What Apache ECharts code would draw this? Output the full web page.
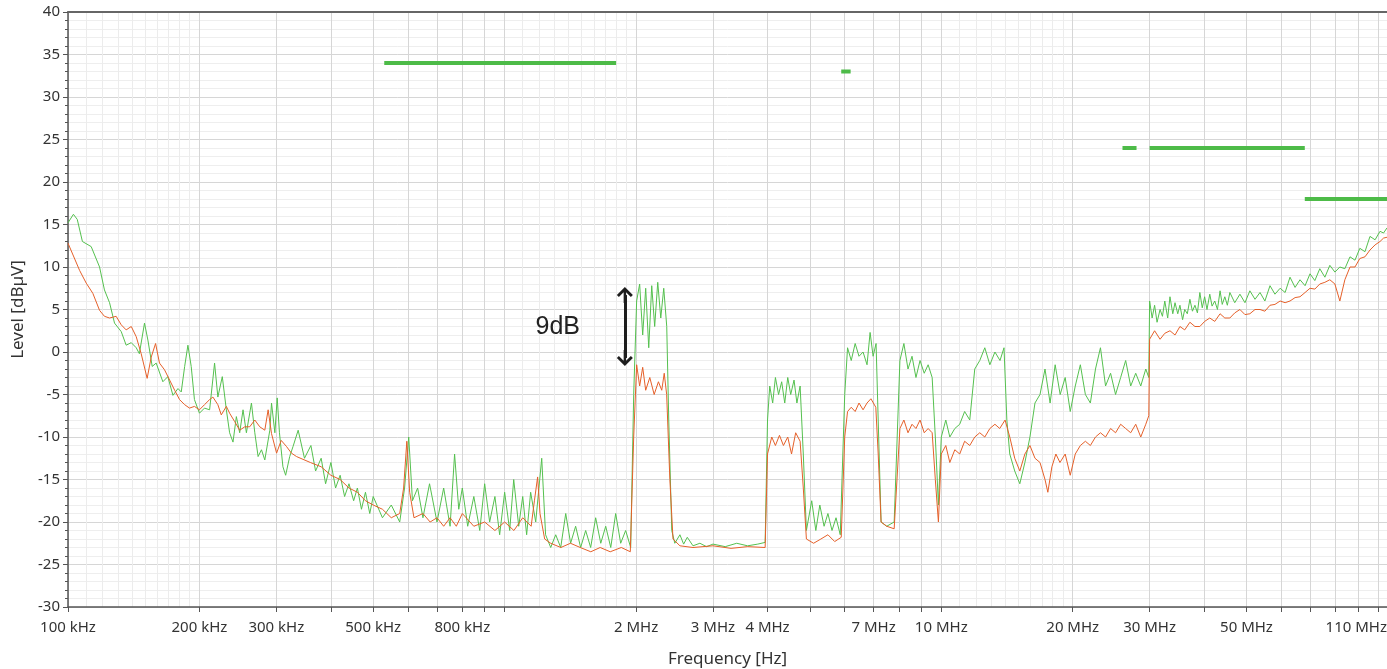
<!DOCTYPE html>
<html><head><meta charset="utf-8">
<script src="https://cdn.jsdelivr.net/npm/echarts@6/dist/echarts.min.js"></script>
<style>html,body{margin:0;padding:0;background:#fff}#c{width:1387px;height:669px}</style>
</head><body><div id="c"></div>
<script>
// Frequencies in MHz, levels in dBµV
const greenFreq = [0.1,0.1029,0.105,0.1079,0.113,0.1181,0.1212,0.1245,0.1278,0.1324,0.1359,0.1396,0.1433,0.1457,0.1497,0.1524,0.1559,0.1592,0.1649,0.1693,0.1739,0.1786,0.1817,0.185,0.1882,0.1915,0.1948,0.2,0.2054,0.211,0.2166,0.2204,0.2256,0.2305,0.2345,0.2387,0.243,0.2473,0.2517,0.2562,0.2631,0.2678,0.2725,0.2774,0.2823,0.2899,0.2925,0.2977,0.3014,0.305,0.3106,0.3151,0.3219,0.3277,0.3366,0.348,0.36,0.369,0.38,0.389,0.40,0.41,0.42,0.43,0.44,0.451,0.46,0.47,0.48,0.491,0.50,0.525,0.55,0.575,0.59,0.603,0.615,0.632,0.65,0.673,0.70,0.725,0.75,0.768,0.785,0.80,0.823,0.85,0.877,0.90,0.924,0.95,0.974,1.0,1.027,1.049,1.077,1.10,1.123,1.147,1.178,1.216,1.241,1.275,1.309,1.344,1.38,1.416,1.454,1.493,1.533,1.574,1.616,1.66,1.704,1.75,1.796,1.844,1.893,1.944,1.975,2.006,2.038,2.071,2.104,2.138,2.172,2.206,2.242,2.278,2.314,2.351,2.376,2.414,2.453,2.52,2.57,2.62,2.7,2.8,2.9,3.0,3.2,3.4,3.6,3.8,3.95,4.0,4.047,4.11,4.17,4.24,4.31,4.38,4.45,4.52,4.6,4.67,4.75,4.83,4.91,5.05,5.16,5.27,5.39,5.5,5.62,5.74,5.87,6.01,6.10,6.22,6.35,6.48,6.62,6.76,6.87,6.98,7.09,7.17,7.28,7.5,7.8,8.04,8.21,8.39,8.57,8.75,8.94,9.14,9.33,9.53,9.69,9.85,10.0,10.24,10.46,10.74,11.02,11.31,11.62,11.93,12.25,12.58,12.92,13.27,13.63,13.92,14.13,14.35,14.73,15.13,15.54,15.96,16.39,16.83,17.28,17.75,18.23,18.72,19.22,19.74,20.27,20.82,21.38,21.95,22.55,23.15,23.78,24.42,25.07,25.75,26.44,27.15,27.88,28.63,29.4,29.87,30.0,30.4,30.8,31.2,31.7,32.1,32.5,33.0,33.4,33.9,34.3,34.8,35.2,35.7,36.1,36.6,37.1,37.6,38.1,38.6,39.1,39.6,40.1,40.6,41.2,41.7,42.3,42.9,43.5,44.0,44.6,45.2,45.8,47.0,48.3,49.6,50.9,52.3,53.7,55.1,56.6,58.1,59.7,61.3,62.9,64.6,66.3,68.1,69.9,71.7,73.6,75.6,77.6,79.7,81.8,84.0,86.3,88.6,90.9,93.4,95.9,98.5,101.1,103.0,104.9];
const greenLevel = [15.2,16.2,15.6,13.0,12.4,10.0,7.3,5.8,3.4,2.4,0.8,1.1,0.5,-0.2,3.4,1.4,-1.7,-1.3,-3.5,-2.9,-5.1,-4.3,-4.7,-1.7,0.8,-1.7,-5.6,-7.2,-6.6,-6.8,-1.3,-5.3,-2.9,-6.8,-9.5,-10.6,-7.6,-9.5,-6.8,-9.5,-6.0,-9.5,-12.3,-11.5,-12.7,-9.2,-6.0,-9.5,-5.4,-9.5,-13.5,-14.5,-12.3,-11.1,-9.2,-12.5,-11.0,-14.0,-12.5,-15.5,-13.0,-16.0,-14.5,-17.0,-15.5,-17.5,-16.0,-18.5,-16.5,-19.0,-17.0,-19.5,-18.0,-20.0,-16.0,-10.0,-17.5,-16.0,-19.5,-15.5,-20.0,-16.0,-20.5,-12.0,-18.5,-16.0,-20.5,-17.0,-21.0,-15.5,-20.0,-17.0,-21.5,-16.5,-21.0,-15.0,-20.5,-17.0,-21.5,-16.5,-20.0,-12.5,-21.5,-23.0,-21.5,-23.0,-19.0,-22.5,-20.5,-23.0,-21.0,-23.0,-19.5,-22.5,-20.5,-23.0,-19.0,-22.5,-21.0,-23.0,-5.0,6.0,8.0,2.0,7.5,0.5,7.8,3.0,8.2,4.0,7.5,3.0,-8.0,-21.0,-22.5,-21.5,-22.6,-21.8,-22.8,-22.5,-22.9,-22.6,-22.9,-22.5,-22.8,-22.6,-22.4,-8.0,-4.0,-6.0,-3.0,-5.0,-3.5,-6.0,-3.0,-5.0,-3.3,-6.0,-4.0,-12.0,-21.0,-17.5,-21.0,-18.0,-20.5,-19.0,-21.0,-19.5,-21.5,-5.0,0.5,-1.0,1.0,-0.5,0.0,-1.5,2.3,-0.5,1.0,-8.0,-20.0,-20.5,-20.0,-1.0,1.0,-2.0,-0.5,-3.0,-1.0,-2.5,-1.5,-3.0,-10.0,-18.0,-10.0,-8.0,-10.0,-9.0,-8.5,-7.0,-8.0,-2.0,-1.0,0.5,-1.5,0.0,-1.0,0.5,-8.0,-12.0,-14.0,-15.5,-13.0,-10.0,-6.0,-5.0,-2.0,-6.0,-1.5,-5.0,-3.0,-7.0,-4.0,-1.5,-5.0,-6.0,-2.0,0.5,-4.0,-2.5,-5.0,-3.0,-1.0,-4.0,-2.5,-4.0,-2.0,-3.0,6.0,4.0,5.5,3.5,5.0,4.2,6.0,4.0,6.5,4.5,5.8,4.5,5.5,3.8,5.0,4.5,6.2,4.8,5.5,4.6,7.0,5.2,6.5,5.0,6.8,5.4,6.0,5.0,7.2,5.6,6.5,5.5,7.0,5.8,6.8,5.8,7.2,6.2,7.0,6.0,7.8,6.8,7.5,7.0,8.8,7.6,8.5,7.8,9.2,8.4,9.8,8.8,10.2,9.4,10.0,9.8,11.2,10.8,12.2,11.8,13.6,13.2,14.2,14.0,14.6];

const orangeFreq = [0.1,0.1063,0.1101,0.114,0.1181,0.1212,0.1245,0.1289,0.1324,0.1359,0.1396,0.1433,0.1471,0.1518,0.1551,0.1587,0.162,0.1664,0.1709,0.1755,0.1801,0.185,0.1898,0.1948,0.2,0.2054,0.211,0.2147,0.2204,0.2244,0.2305,0.2345,0.2409,0.2473,0.254,0.2607,0.2678,0.2749,0.2823,0.2873,0.2925,0.3004,0.3078,0.3163,0.3249,0.3337,0.359,0.38,0.40,0.42,0.44,0.46,0.48,0.50,0.525,0.55,0.575,0.587,0.597,0.606,0.62,0.65,0.675,0.70,0.725,0.75,0.775,0.80,0.85,0.90,0.95,1.0,1.05,1.10,1.15,1.17,1.19,1.205,1.235,1.275,1.345,1.415,1.49,1.575,1.655,1.745,1.85,1.94,1.975,2.006,2.038,2.071,2.104,2.15,2.2,2.25,2.29,2.32,2.35,2.39,2.43,2.52,2.7,3.0,3.3,3.6,3.95,4.0,4.09,4.17,4.26,4.35,4.45,4.54,4.64,4.75,4.83,4.91,5.1,5.3,5.5,5.7,5.9,6.01,6.10,6.22,6.35,6.48,6.62,6.76,6.9,7.08,7.17,7.28,7.5,7.8,8.04,8.21,8.39,8.57,8.75,8.94,9.14,9.33,9.53,9.69,9.85,10.0,10.24,10.46,10.74,11.02,11.31,11.62,11.93,12.25,12.58,12.92,13.27,13.61,14.0,14.35,14.73,15.13,15.54,15.96,16.39,16.83,17.28,17.54,17.92,18.3,18.7,19.22,19.74,20.27,20.82,21.38,21.95,22.55,23.15,23.78,24.42,25.07,25.75,26.44,27.15,27.88,28.63,29.4,29.87,30.0,30.8,31.7,32.5,33.4,34.3,35.2,36.1,37.1,38.1,39.1,40.1,41.2,42.3,43.5,44.6,45.8,47.0,48.3,49.6,50.9,52.3,53.7,55.1,56.6,58.1,59.7,61.3,62.9,64.6,66.3,68.1,69.9,71.7,73.6,75.6,77.6,79.7,81.8,84.0,86.3,88.6,90.9,93.4,95.9,98.5,101.1,103.0,104.9];
const orangeLevel = [12.8,9.6,8.1,6.9,4.9,4.2,4.0,4.2,3.2,2.6,3.0,1.8,-0.2,-3.1,-0.6,1.0,-1.3,-2.1,-3.3,-4.5,-5.6,-6.2,-6.6,-6.4,-6.8,-6.2,-5.6,-5.3,-6.2,-7.4,-6.4,-7.2,-8.2,-9.2,-8.8,-8.8,-8.0,-8.8,-9.2,-6.8,-9.6,-11.9,-10.4,-11.1,-11.9,-12.3,-13.0,-13.5,-14.5,-15.0,-16.0,-16.5,-17.5,-18.0,-18.5,-19.5,-19.0,-16.0,-10.5,-16.5,-19.5,-19.0,-20.0,-19.5,-20.5,-19.5,-20.5,-19.0,-20.5,-20.0,-21.0,-20.0,-21.0,-19.5,-20.5,-17.5,-14.7,-19.0,-22.0,-22.5,-23.0,-22.5,-23.0,-23.5,-23.0,-23.5,-23.0,-23.5,-10.0,-1.5,-4.0,-1.8,-4.5,-3.0,-5.0,-3.5,-4.5,-2.5,-5.0,-15.0,-22.0,-22.8,-23.0,-22.8,-23.1,-22.9,-23.0,-12.0,-10.0,-11.0,-9.8,-11.0,-10.0,-12.0,-9.5,-10.5,-16.0,-22.0,-22.5,-22.0,-21.5,-22.3,-21.8,-10.0,-7.0,-6.5,-7.0,-6.0,-6.8,-6.0,-5.5,-6.5,-12.0,-20.0,-20.5,-20.8,-9.0,-8.0,-9.5,-8.5,-9.0,-8.0,-9.5,-9.0,-9.5,-15.0,-20.0,-12.0,-11.0,-13.0,-11.5,-12.0,-10.5,-11.0,-10.0,-9.5,-10.0,-9.0,-8.5,-9.0,-8.0,-10.0,-12.5,-14.0,-12.0,-11.0,-12.5,-13.0,-15.0,-16.5,-13.5,-12.0,-13.0,-12.0,-14.5,-12.0,-11.0,-10.5,-11.0,-10.0,-9.5,-10.0,-9.0,-9.5,-8.5,-9.0,-9.5,-8.5,-10.0,-8.5,-7.5,1.5,2.5,1.5,2.2,2.5,2.0,3.0,2.6,3.5,3.0,3.0,3.6,4.0,3.6,4.5,4.0,4.0,4.6,5.0,4.4,4.5,5.0,5.0,4.8,5.5,5.6,6.0,5.8,6.0,6.4,6.5,7.0,7.5,7.4,8.0,8.2,8.5,8.0,6.0,8.5,10.0,10.0,11.0,11.2,12.0,12.6,13.0,13.4,13.5];

// Limit line segments
const limitStart = [0.53, 5.9, 26, 30, 68];
const limitEnd   = [1.8, 6.2, 28, 68, 105];
const limitLevel = [34, 33, 24, 24, 18];

// Axis
const fMin = 0.1, fMax = 104.9;
const yMin = -30, yMax = 40;
const tickLabelFreq = [0.1,0.2,0.3,0.5,0.8,2,3,4,7,10,20,30,50,110];
const tickLabelText = ['100 kHz','200 kHz','300 kHz','500 kHz','800 kHz','2 MHz','3 MHz','4 MHz','7 MHz','10 MHz','20 MHz','30 MHz','50 MHz','110 MHz'];

// Annotation
const arrowFreq = 1.885, arrowTop = 6.7, arrowBottom = -0.7;
const noteFreq = 1.323, noteLevel = 2.9, noteText = '9dB';

const L = f => Math.log10(f);
const lo = L(fMin), hi = L(fMax);
const majorTicks = [], minorTicks = [];
[0.1, 1, 10].forEach(d => {
  for (let k = 1; k <= 9; k++) majorTicks.push(L(k * d));
  for (let k = 11; k <= 19; k++) minorTicks.push(L(k * d / 10));
});
majorTicks.push(L(100));
const labelPos = tickLabelFreq.map(f => Math.min(L(f), hi));
const fmtX = v => {
  let best = 0;
  labelPos.forEach((p, i) => { if (Math.abs(p - v) < Math.abs(labelPos[best] - v)) best = i; });
  return tickLabelText[best];
};

const FONT = 'Noto Sans';
const chart = echarts.init(document.getElementById('c'), null, {renderer: 'canvas'});
const limitSeries = limitStart.map((s, i) => ({
  type: 'line', xAxisIndex: 0, yAxisIndex: 0, silent: true, showSymbol: false, symbol: 'none',
  lineStyle: {color: '#4dbb48', width: 4}, z: 5,
  data: [[L(s), limitLevel[i]], [L(limitEnd[i]), limitLevel[i]]]
}));
const arrowHead = 'path://M10,0 L20,10 L17.5,12.5 L11.5,6.5 L11.5,20 L8.5,20 L8.5,6.5 L2.5,12.5 L0,10 Z';

chart.setOption({
  animation: false,
  backgroundColor: '#ffffff',
  grid: {left: 68, right: 0, top: 12, bottom: 62, outerBoundsMode: 'none', containLabel: false},
  xAxis: [{
    type: 'value', min: lo, max: hi, position: 'bottom',
    name: 'Frequency [Hz]', nameLocation: 'middle', nameGap: 44,
    nameTextStyle: {fontFamily: FONT, fontSize: 17, color: '#333'},
    axisLine: {show: true, onZero: false, lineStyle: {color: '#555', width: 1.5}},
    axisTick: {show: true, customValues: majorTicks, length: 5, lineStyle: {color: '#555'}},
    axisLabel: {customValues: labelPos, formatter: fmtX, fontFamily: FONT, fontSize: 15, color: '#333', margin: 13, alignMaxLabel: 'right', showMinLabel: true, showMaxLabel: true, hideOverlap: false},
    splitLine: {show: true, lineStyle: {color: '#d6d6d6', width: 1}}
  }, {
    type: 'value', min: lo, max: hi, position: 'top',
    axisLine: {show: true, onZero: false, lineStyle: {color: '#666', width: 2}},
    axisTick: {show: false, customValues: minorTicks},
    axisLabel: {show: false},
    splitLine: {show: true, lineStyle: {color: '#ececec', width: 1}}
  }],
  yAxis: [{
    type: 'value', min: yMin, max: yMax, interval: 5,
    name: 'Level [dBµV]', nameLocation: 'middle', nameGap: 33, nameRotate: 90,
    nameTextStyle: {fontFamily: FONT, fontSize: 17, color: '#333'},
    axisLine: {show: true, onZero: false, lineStyle: {color: '#555', width: 1.5}},
    axisTick: {show: true, length: 5, lineStyle: {color: '#555'}},
    minorTick: {show: true, splitNumber: 5, length: 3, lineStyle: {color: '#555'}},
    axisLabel: {fontFamily: FONT, fontSize: 15, color: '#333', margin: 8},
    splitLine: {show: true, lineStyle: {color: '#d6d6d6', width: 1}},
    minorSplitLine: {show: true, lineStyle: {color: '#eeeeee', width: 1}}
  }],
  series: [
    {
      name: 'green', type: 'line', showSymbol: false, symbol: 'none', z: 3,
      lineStyle: {color: '#55c04f', width: 1},
      data: greenFreq.map((f, i) => [L(f), greenLevel[i]])
    },
    {
      name: 'orange', type: 'line', showSymbol: false, symbol: 'none', z: 4,
      lineStyle: {color: '#e5602a', width: 1},
      data: orangeFreq.map((f, i) => [L(f), orangeLevel[i]]),
      markLine: {
        silent: true, symbol: [arrowHead, arrowHead], symbolSize: [16, 16],
        label: {show: false},
        lineStyle: {color: '#1e1e1e', width: 3, type: 'solid'},
        data: [[{coord: [L(arrowFreq), arrowTop]}, {coord: [L(arrowFreq), arrowBottom]}]]
      },
      markPoint: {
        silent: true, symbol: 'circle', symbolSize: 1, itemStyle: {color: 'rgba(0,0,0,0)'},
        label: {show: true, position: 'inside', formatter: noteText, fontFamily: 'Liberation Sans', fontSize: 25, color: '#222'},
        data: [{coord: [L(noteFreq), noteLevel]}]
      }
    },
    ...limitSeries
  ]
});
</script></body></html>
